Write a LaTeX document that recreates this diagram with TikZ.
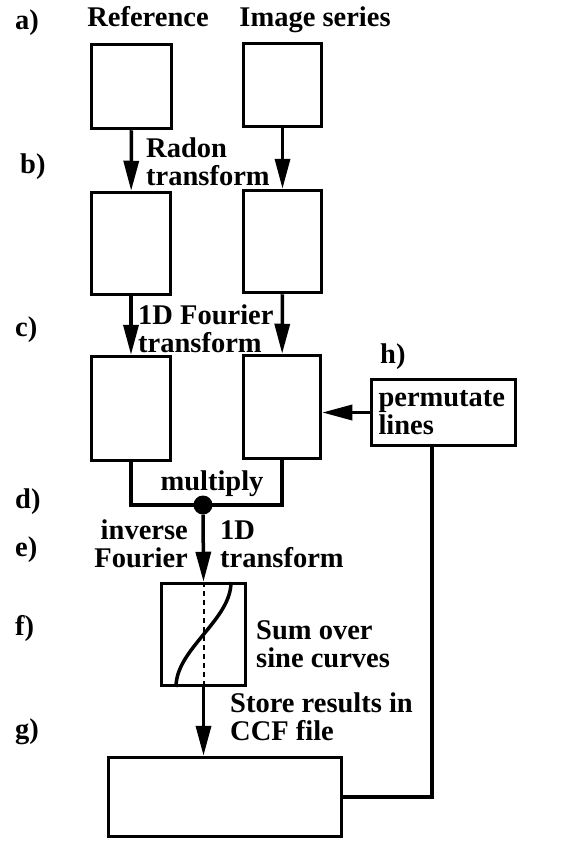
\documentclass[tikz,border=0pt]{standalone}
\usepackage{fontspec}
\setmainfont{Liberation Serif}
\usepackage{tikz}
\usetikzlibrary{arrows.meta}
\usetikzlibrary{calc}
\tikzstyle{box} = [draw, line width=3.5pt, inner sep=0pt]
\tikzstyle{arrow} = [line width=3.5pt, -{Triangle[length=30pt,width=15pt]}]
\tikzstyle{link} = [line width=3.5pt]
\tikzstyle{txt} = [font=\fontsize{28.5}{28}\selectfont\bfseries, inner sep=0pt, align=left]

\begin{document}
\begin{tikzpicture}[x=1pt,y=-1pt]
			\useasboundingbox (0,0) rectangle (575,843);
			\node[txt, anchor=west] (la) at (15,23) {a)};
			\node[txt, anchor=west] (lb) at (20,167) {b)};
			\node[txt, anchor=west] (lc) at (15,330) {c)};
			\node[txt, anchor=west] (ld) at (15,502) {d)};
			\node[txt, anchor=west] (le) at (15,550) {e)};
			\node[txt, anchor=west] (lf) at (15,628) {f)};
			\node[txt, anchor=west] (lg) at (15,732) {g)};
			\node[txt, anchor=west] (lh) at (380,357) {h)};
			\node[txt, anchor=base] (tref) at (148,27) {Reference};
			\node[txt, anchor=base] (timg) at (315,27) {Image series};
			\node[box, minimum width=80pt, minimum height=84pt] (refA) at (131.5,86.5) {};
			\node[box, minimum width=78pt, minimum height=83pt] (imgA) at (282.5,85) {};
			\node[box, minimum width=79pt, minimum height=102pt] (refB) at (131,243.5) {};
			\node[box, minimum width=78pt, minimum height=102pt] (imgB) at (282.5,241.5) {};
			\node[box, minimum width=79pt, minimum height=104pt] (refC) at (131,408.5) {};
			\node[box, minimum width=77pt, minimum height=103pt] (imgC) at (282,407) {};
			\node[box, txt, draw, minimum width=144pt, minimum height=66pt, text width=130pt] (perm) at (443.5,412.5) {permutate\\lines};
			\node[box, minimum width=84pt, minimum height=102pt] (sine) at (203.5,634.5) {};
			\node[box, minimum width=233pt, minimum height=79pt] (ccf) at (225,797) {};
			\node[circle, fill, inner sep=0pt, minimum size=19pt] (mul) at (203,505) {};
			\coordinate (turn) at (432,797);
			\node[txt, anchor=base west] (tradon) at (146,185) {Radon\\transform};
			\node[txt, anchor=base west] (tfour) at (138,352) {1D Fourier\\transform};
			\node[txt, anchor=base] (tmul) at (212,490) {multiply};
			\node[txt, anchor=base east, align=right] (tinv) at (188,567) {inverse\\Fourier};
			\node[txt, anchor=base west] (tone) at (220,567) {1D\\transform};
			\node[txt, anchor=base west] (tsum) at (256,667) {Sum over\\sine curves};
			\node[txt, anchor=base west] (tstore) at (230,740) {Store results in\\CCF file};
			\draw [arrow] (refA) -- (refB);
			\draw [arrow] (imgA) -- (imgB);
			\draw [arrow] (refB) -- (refC);
			\draw [arrow] (imgB) -- (imgC);
			\draw [link] (refC.south) |- (mul.center) -| (imgC.south);
			\draw [arrow] (perm.west) -- (perm.west -| imgC.east);
			\draw [arrow] (mul) -- (sine.north);
			\draw [line width=2pt, dash pattern=on 5pt off 4pt] (sine.north) -- (sine.south);
			\draw [line width=3.5pt, domain=0:180, samples=40] plot ({203.5-27.5*cos(\x)}, {687-0.5833*\x});
			\draw [arrow] (sine.south) -- (sine.south |- ccf.north);
			\draw [link] (perm.south -| turn) |- (ccf.east);
		\end{tikzpicture}
\end{document}
